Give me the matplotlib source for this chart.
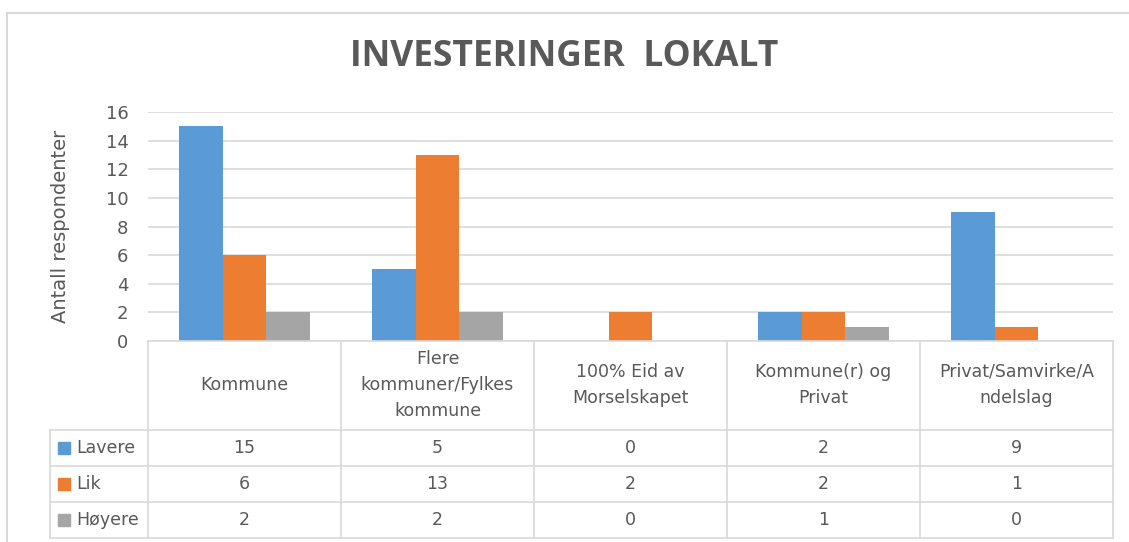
import numpy as np
import matplotlib.pyplot as plt
from matplotlib.lines import Line2D
from matplotlib.patches import Rectangle

categories = ['Kommune', 'Flere\nkommuner/Fylkes\nkommune', '100% Eid av\nMorselskapet',
              'Kommune(r) og\nPrivat', 'Privat/Samvirke/A\nndelslag']
series = ['Lavere', 'Lik', 'Høyere']
lavere = [15, 5, 0, 2, 9]
lik = [6, 13, 2, 2, 1]
hoyere = [2, 2, 0, 1, 0]
colors = ['#5B9BD5', '#ED7D31', '#A5A5A5']
yticks = [0, 2, 4, 6, 8, 10, 12, 14, 16]

W, H = 1129, 542
fig = plt.figure(figsize=(W / 100, H / 100), dpi=100)

def fx(x):
    return x / W

def fy(y):
    return 1 - y / H

txt = '#595959'
grid = '#D9D9D9'

# outer chart border
fig.patches.append(Rectangle((fx(7), fy(560)), fx(1135) - fx(7), fy(13) - fy(560),
                             transform=fig.transFigure, fill=False, ec=grid, lw=1.5))

ax = fig.add_axes([fx(148), fy(341), fx(1113) - fx(148), fy(112) - fy(341)])
x = np.arange(len(categories)) + 0.5
w = 0.225
for i, vals in enumerate([lavere, lik, hoyere]):
    ax.bar(x + (i - 1) * w, vals, w, color=colors[i], zorder=3)

ax.set_xlim(0, len(categories))
ax.set_ylim(0, 16)
ax.set_yticks(yticks)
ax.set_xticks([])
ax.yaxis.grid(True, color=grid, lw=1.2, zorder=0)
for s in ax.spines.values():
    s.set_visible(False)
ax.tick_params(axis='y', length=0, labelsize=13, labelcolor=txt, pad=14)
ax.set_ylabel('Antall respondenter', fontsize=14, color=txt, labelpad=26)

fig.text(fx(564), fy(57), 'INVESTERINGER  LOKALT', ha='center', va='center',
         fontsize=25.5, fontweight='bold', family='Open Sans', color=txt)

# data table
cols = [148, 341, 534, 727, 920, 1113]
rows = [341, 430, 466, 502, 538]

def hline(y, x0, x1):
    fig.lines.append(Line2D([fx(x0), fx(x1)], [fy(y), fy(y)], transform=fig.transFigure,
                            color=grid, lw=1.2))

def vline(xp, y0, y1):
    fig.lines.append(Line2D([fx(xp), fx(xp)], [fy(y0), fy(y1)], transform=fig.transFigure,
                            color=grid, lw=1.2))

hline(341, 148, 1113)
for y in rows[1:]:
    hline(y, 50, 1113)
for c in cols:
    vline(c, 341, 538)
vline(50, 430, 538)

for j, cat in enumerate(categories):
    cx = (cols[j] + cols[j + 1]) / 2
    fig.text(fx(cx), fy(385), cat, ha='center', va='center', fontsize=12.5, color=txt,
             linespacing=1.6)

for i, (name, vals) in enumerate(zip(series, [lavere, lik, hoyere])):
    cy = (rows[i + 1] + rows[i + 2]) / 2
    fig.patches.append(Rectangle((fx(58), fy(cy + 6)), fx(12), fy(cy - 6) - fy(cy + 6),
                                 transform=fig.transFigure, color=colors[i]))
    fig.text(fx(76), fy(cy), name, ha='left', va='center', fontsize=12.5, color=txt)
    for j, v in enumerate(vals):
        cx = (cols[j] + cols[j + 1]) / 2
        fig.text(fx(cx), fy(cy), str(v), ha='center', va='center', fontsize=12.5, color=txt)

plt.savefig('out.png', dpi=100)
